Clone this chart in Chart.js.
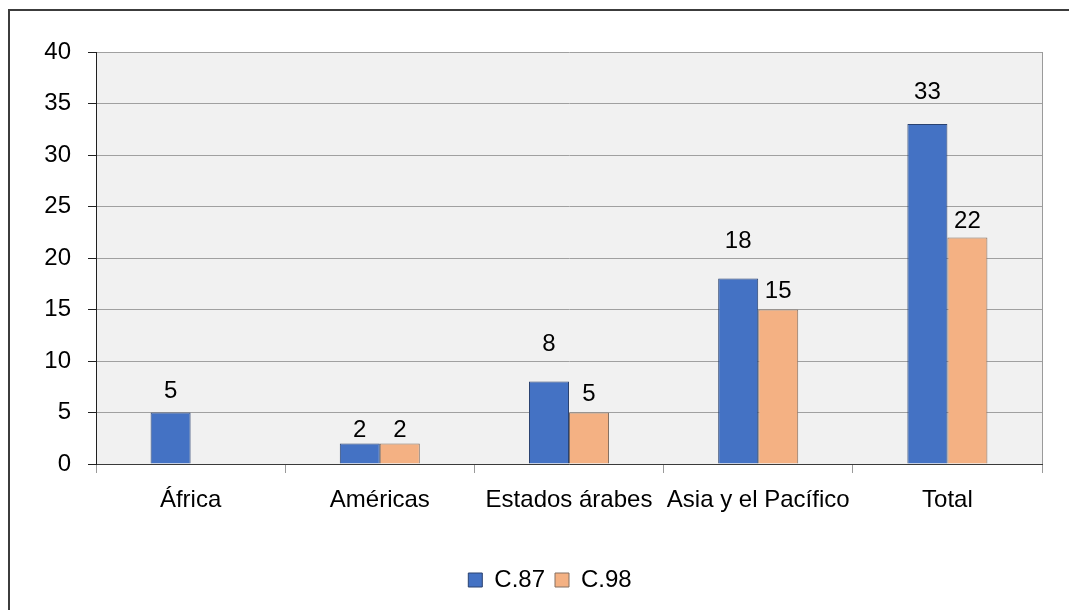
<!DOCTYPE html>
<html>
<head>
<meta charset="utf-8">
<script src="https://cdn.jsdelivr.net/npm/chart.js@4.4.1/dist/chart.umd.min.js"></script>
<style>
  html, body { margin: 0; padding: 0; background: #ffffff; }
  #wrap { width: 1069px; height: 610px; position: relative; }
</style>
</head>
<body>
<div id="wrap"><canvas id="chart" width="1069" height="610"></canvas></div>
<script>
// Regiones y número de ratificaciones por convenio
const categorias = ['África', 'Américas', 'Estados árabes', 'Asia y el Pacífico', 'Total'];
const serieC87 = [5, 2, 8, 18, 33];
const serieC98 = [null, 2, 5, 15, 22];
const nombresSeries = ['C.87', 'C.98'];
const ejeY = { min: 0, max: 40, paso: 5 };

const FUENTE = "'Liberation Sans', Arial, sans-serif";

// Fondo del área de trazado, borde derecho y marco exterior
const fondoPlugin = {
  id: 'fondo',
  afterLayout(chart) {
    // la leyenda queda centrada en el marco completo del gráfico
    const d = 29;
    chart.legend.left += d;
    chart.legend.right += d;
  },
  beforeDraw(chart) {
    const { ctx, chartArea: a } = chart;
    ctx.save();
    ctx.fillStyle = '#f1f1f1';
    ctx.fillRect(a.left, a.top, a.right - a.left, a.bottom - a.top);
    ctx.restore();
  },
  afterDraw(chart) {
    const { ctx, chartArea: a } = chart;
    ctx.save();
    ctx.strokeStyle = '#9a9a9a';
    ctx.lineWidth = 1;
    ctx.beginPath();
    ctx.moveTo(Math.round(a.right) + 0.5, a.top);
    ctx.lineTo(Math.round(a.right) + 0.5, a.bottom);
    ctx.stroke();
    // marco del gráfico
    ctx.strokeStyle = '#3c3c3c';
    ctx.lineWidth = 2;
    ctx.strokeRect(9, 10, 1100, 700);
    ctx.restore();
  }
};

// Etiquetas de valor sobre cada barra
const etiquetasPlugin = {
  id: 'etiquetas',
  afterDatasetsDraw(chart, args, opts) {
    const { ctx } = chart;
    ctx.save();
    ctx.font = opts.font;
    ctx.fillStyle = opts.color;
    ctx.textAlign = 'center';
    ctx.textBaseline = 'middle';
    chart.data.datasets.forEach((ds, di) => {
      const meta = chart.getDatasetMeta(di);
      meta.data.forEach((bar, i) => {
        const v = ds.data[i];
        if (v === null || v === undefined) return;
        const lift = opts.elevacion[di][i];
        ctx.fillText(String(v), bar.x, bar.y - lift);
      });
    });
    ctx.restore();
  }
};

new Chart(document.getElementById('chart'), {
  type: 'bar',
  data: {
    labels: categorias,
    datasets: [
      {
        label: nombresSeries[0],
        data: serieC87,
        backgroundColor: '#4472c4',
        borderColor: '#2a4270',
        borderWidth: 1
      },
      {
        label: nombresSeries[1],
        data: serieC98,
        backgroundColor: '#f4b183',
        borderColor: '#857062',
        borderWidth: 1
      }
    ]
  },
  options: {
    responsive: false,
    animation: false,
    layout: { padding: { left: 0, top: 52, right: 27, bottom: 8 } },
    datasets: {
      bar: { categoryPercentage: 0.423, barPercentage: 1.0 }
    },
    scales: {
      x: {
        offset: true,
        grid: {
          offset: true,
          drawOnChartArea: false,
          drawTicks: true,
          tickLength: 9,
          tickColor: '#9a9a9a'
        },
        border: { color: '#3a3a3a', width: 1 },
        ticks: {
          color: '#000000',
          font: { family: FUENTE, size: 24 },
          padding: 13,
          maxRotation: 0,
          autoSkip: false
        },
        afterFit(scale) { scale.height = 94; }
      },
      y: {
        min: ejeY.min,
        max: ejeY.max,
        grid: {
          color: '#a0a0a0',
          tickColor: '#202020',
          tickLength: 8,
          drawTicks: true
        },
        border: { color: '#202020', width: 1 },
        ticks: {
          stepSize: ejeY.paso,
          color: '#000000',
          font: { family: FUENTE, size: 24 },
          padding: 17
        },
        afterFit(scale) { scale.width = 96; }
      }
    },
    plugins: {
      legend: {
        position: 'bottom',
        labels: {
          color: '#000000',
          font: { family: FUENTE, size: 24 },
          boxWidth: 14,
          boxHeight: 14,
          padding: 10
        }
      },
      tooltip: { enabled: false },
      etiquetas: {
        font: "24px 'Liberation Sans', Arial, sans-serif",
        color: '#000000',
        elevacion: [[21, 13, 37, 37, 32], [0, 13, 18, 18, 16]]
      }
    }
  },
  plugins: [fondoPlugin, etiquetasPlugin]
});
</script>
</body>
</html>
